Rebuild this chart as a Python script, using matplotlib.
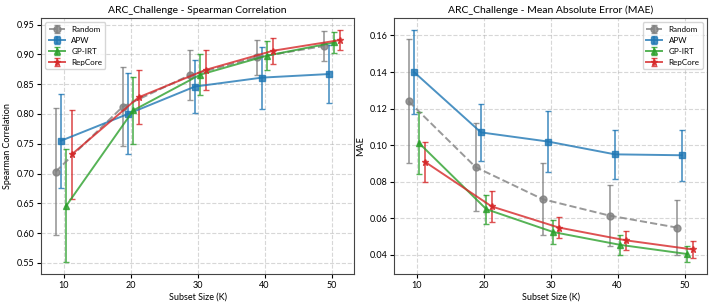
import numpy as np
import matplotlib.pyplot as plt

plt.rcParams['font.family'] = ['Lato', 'DejaVu Sans']

# subset sizes
sizes = [10, 20, 30, 40, 50]
methods = ['Random', 'APW', 'GP-IRT', 'RepCore']

# Spearman correlation (mean, half error bar)
spear_mean = {
    'Random': [0.703, 0.812, 0.865, 0.895, 0.914],
    'APW': [0.755, 0.800, 0.846, 0.861, 0.867],
    'GP-IRT': [0.646, 0.806, 0.866, 0.898, 0.920],
    'RepCore': [0.732, 0.828, 0.874, 0.906, 0.924],
}
spear_err = {
    'Random': [0.107, 0.066, 0.042, 0.030, 0.025],
    'APW': [0.079, 0.068, 0.045, 0.052, 0.048],
    'GP-IRT': [0.095, 0.056, 0.034, 0.025, 0.018],
    'RepCore': [0.075, 0.045, 0.033, 0.022, 0.017],
}

# MAE
mae_mean = {
    'Random': [0.124, 0.088, 0.0705, 0.0615, 0.055],
    'APW': [0.140, 0.107, 0.102, 0.095, 0.0945],
    'GP-IRT': [0.101, 0.065, 0.0525, 0.0455, 0.0405],
    'RepCore': [0.091, 0.0665, 0.055, 0.048, 0.043],
}
mae_err = {
    'Random': [0.034, 0.024, 0.0195, 0.0165, 0.015],
    'APW': [0.023, 0.0155, 0.0165, 0.0135, 0.014],
    'GP-IRT': [0.017, 0.008, 0.0065, 0.0055, 0.0045],
    'RepCore': [0.011, 0.0085, 0.006, 0.0053, 0.0045],
}

colors = {'Random': 'gray', 'APW': '#1f77b4', 'GP-IRT': '#2ca02c', 'RepCore': '#d62728'}
markers = {'Random': 'o', 'APW': 's', 'GP-IRT': '^', 'RepCore': '*'}
styles = {'Random': '--', 'APW': '-', 'GP-IRT': '-', 'RepCore': '-'}
offsets = {'Random': -1.2, 'APW': -0.4, 'GP-IRT': 0.4, 'RepCore': 1.2}


def draw(ax, means, errs, title, ylabel, legend_loc):
    for m in methods:
        x = np.array(sizes) + offsets[m]
        ax.errorbar(x, means[m], yerr=errs[m], label=m, color=colors[m],
                    marker=markers[m], linestyle=styles[m], linewidth=1.4,
                    markersize=5, capsize=2.5, elinewidth=1.2, alpha=0.8)
    ax.set_title(title, fontsize=7.5, pad=4)
    ax.set_xlabel('Subset Size (K)', fontsize=6.5, labelpad=2)
    ax.set_ylabel(ylabel, fontsize=6.5, labelpad=3)
    ax.set_xticks(sizes)
    ax.tick_params(labelsize=6.5, length=3, pad=2)
    ax.grid(True, linestyle='--', alpha=0.5)
    for s in ax.spines.values():
        s.set_color('#444444')
    ax.legend(loc=legend_loc, fontsize=5.8)


fig, (ax1, ax2) = plt.subplots(1, 2, figsize=(7.14, 3.06), dpi=100)
draw(ax1, spear_mean, spear_err, 'ARC_Challenge - Spearman Correlation',
     'Spearman Correlation', 'upper left')
draw(ax2, mae_mean, mae_err, 'ARC_Challenge - Mean Absolute Error (MAE)',
     'MAE', 'upper right')
plt.subplots_adjust(left=0.058, right=0.99, bottom=0.105, top=0.94, wspace=0.13)
plt.savefig('out.png')
